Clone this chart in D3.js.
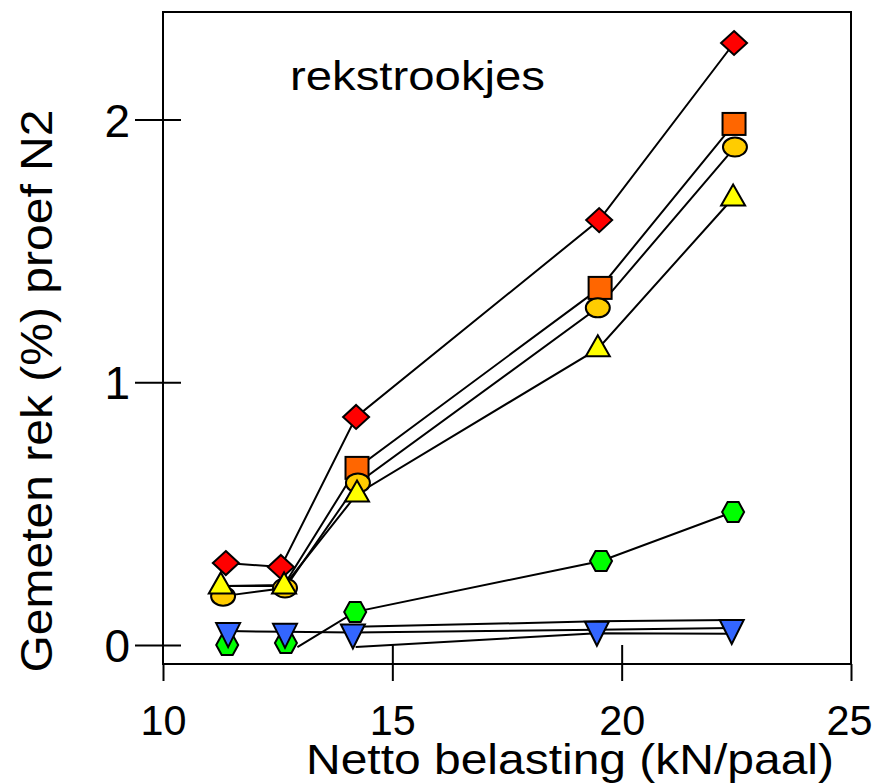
<!DOCTYPE html>
<html><head><meta charset="utf-8">
<script src="https://cdn.jsdelivr.net/npm/d3@7/dist/d3.min.js"></script>
<style>
html,body{margin:0;padding:0;background:#fff;}
svg{display:block;}
text{font-family:"Liberation Sans",Arial,Helvetica,sans-serif;fill:#000;}
</style></head>
<body>
<svg id="chart" width="875" height="784"></svg>
<script>
// ---- data ----
const xTicks = [10, 15, 20, 25];
const yTicks = [0, 1, 2];
const xTickLabels = ["10", "15", "20", "25"];
const yTickLabels = ["0", "1", "2"];
const title = "rekstrookjes";
const xTitle = "Netto belasting (kN/paal)";
const yTitle = "Gemeten rek (%) proef N2";

const diamondX = [11.37, 12.57, 14.21, 19.51, 22.45];
const diamondY = [0.312, 0.297, 0.868, 1.617, 2.291];
const squareLineX = [11.33, 12.64, 14.23, 19.53, 22.45];
const squareLineY = [0.225, 0.228, 0.674, 1.359, 1.983];
const squareX = [14.23, 19.53, 22.45];
const squareY = [0.674, 1.359, 1.983];
const circleX = [11.31, 12.66, 14.25, 19.48, 22.47];
const circleY = [0.186, 0.217, 0.617, 1.283, 1.895];
const triangleX = [11.26, 12.64, 14.23, 19.48, 22.43];
const triangleY = [0.225, 0.225, 0.575, 1.127, 1.701];
const hexX = [11.40, 12.68, 14.19, 19.55, 22.43];
const hexY = [0.0, 0.008, 0.126, 0.320, 0.506];
const hexLineX = [12.93, 14.19, 19.55, 22.43];
const hexLineY = [-0.008, 0.126, 0.320, 0.506];
const downX = [11.42, 12.66, 14.14, 19.46, 22.40];
const downY = [0.053, 0.050, 0.048, 0.058, 0.065];
const extraTopX = [14.20, 19.46, 22.40];
const extraTopY = [0.069, 0.090, 0.095];
const extraBottomX = [14.20, 19.46, 22.40];
const extraBottomY = [-0.008, 0.045, 0.043];

const series = [
  {name: "square", xs: squareX, ys: squareY, lx: squareLineX, ly: squareLineY, color: "#FF6600"},
  {name: "diamond", xs: diamondX, ys: diamondY, lx: diamondX, ly: diamondY, color: "#FF0000"},
  {name: "circle", xs: circleX, ys: circleY, lx: circleX, ly: circleY, color: "#FFCC00"},
  {name: "triangle", xs: triangleX, ys: triangleY, lx: triangleX, ly: triangleY, color: "#FFFF00"},
  {name: "hexagon", xs: hexX, ys: hexY, lx: hexLineX, ly: hexLineY, color: "#00FF00"},
  {name: "down", xs: downX, ys: downY, lx: downX, ly: downY, color: "#3366FF"},
  {name: "lineTop", xs: [], ys: [], lx: extraTopX, ly: extraTopY, color: "none"},
  {name: "lineBottom", xs: [], ys: [], lx: extraBottomX, ly: extraBottomY, color: "none"}
];

// ---- layout ----
const svg = d3.select("#chart");
const x = d3.scaleLinear().domain([10, 25]).range([163, 851]);
const y = d3.scaleLinear().domain([-0.0723, 2.409]).range([664, 12]);

// frame
svg.append("rect").attr("x", 163).attr("y", 12).attr("width", 688).attr("height", 652)
  .attr("fill", "none").attr("stroke", "#000").attr("stroke-width", 2);

// y axis
const yAxis = d3.axisLeft(y).tickValues(yTicks).tickFormat((d, i) => yTickLabels[i]).tickSize(28).tickPadding(0);
const gy = svg.append("g").attr("transform", "translate(163,0)").call(yAxis);
gy.select(".domain").remove();
gy.selectAll(".tick line").attr("x1", 18).attr("x2", -28).attr("stroke", "#000").attr("stroke-width", 2);
gy.selectAll(".tick text").attr("x", -33).attr("dy", "0.36em")
  .attr("font-size", 46).attr("font-family", "Liberation Sans, Arial, sans-serif").attr("fill", "#000");

// x axis
const xAxis = d3.axisBottom(x).tickValues(xTicks).tickFormat((d, i) => xTickLabels[i]).tickSize(16).tickPadding(0);
const gx = svg.append("g").attr("transform", "translate(0,664)").call(xAxis);
gx.select(".domain").remove();
gx.selectAll(".tick line").attr("y1", d => (d === 10 || d === 25) ? 0 : -19).attr("y2", 17)
  .attr("stroke", "#000").attr("stroke-width", 2);
gx.selectAll(".tick text").attr("y", 71).attr("dy", 0)
  .attr("dx", d => d === 25 ? -2 : 0)
  .attr("font-size", 42).attr("font-family", "Liberation Sans, Arial, sans-serif").attr("fill", "#000")
  .attr("textLength", 46).attr("lengthAdjust", "spacingAndGlyphs");

// titles
svg.append("text").attr("x", 290).attr("y", 90).attr("font-size", 40)
  .attr("textLength", 255).attr("lengthAdjust", "spacingAndGlyphs").text(title);
svg.append("text").attr("x", 570).attr("y", 774).attr("text-anchor", "middle").attr("font-size", 42)
  .attr("textLength", 528).attr("lengthAdjust", "spacingAndGlyphs").text(xTitle);
svg.append("text").attr("transform", "translate(52,391) rotate(-90)").attr("text-anchor", "middle")
  .attr("font-size", 45).attr("textLength", 563).attr("lengthAdjust", "spacingAndGlyphs").text(yTitle);

// lines
const line = d3.line().x(d => x(d[0])).y(d => y(d[1]));
svg.append("g").selectAll("path").data(series).join("path")
  .attr("d", s => line(s.lx.map((v, i) => [v, s.ly[i]])))
  .attr("fill", "none").attr("stroke", "#000").attr("stroke-width", 2);

// markers
const shapes = {
  square: g => g.append("rect").attr("x", -11.5).attr("y", -11).attr("width", 23).attr("height", 22),
  diamond: g => g.append("polygon").attr("points", "0,-12 13,0 0,12 -13,0"),
  circle: g => g.append("ellipse").attr("rx", 12).attr("ry", 9.5),
  triangle: g => g.append("polygon").attr("points", "0,-13.5 12,7.5 -12,7.5"),
  hexagon: g => g.append("polygon").attr("points", "-11,0 -5.5,-10 5.5,-10 11,0 5.5,10 -5.5,10"),
  down: g => g.append("polygon").attr("points", "-12,-8 12,-8 0,16")
};
series.filter(s => s.xs.length).forEach(s => {
  const pts = s.xs.map((v, i) => [v, s.ys[i]]);
  const g = svg.append("g");
  pts.forEach(p => {
    const m = g.append("g").attr("transform", `translate(${x(p[0])},${y(p[1])})`);
    shapes[s.name](m).attr("fill", s.color).attr("stroke", "#000").attr("stroke-width", 2);
  });
});
</script>
</body></html>
